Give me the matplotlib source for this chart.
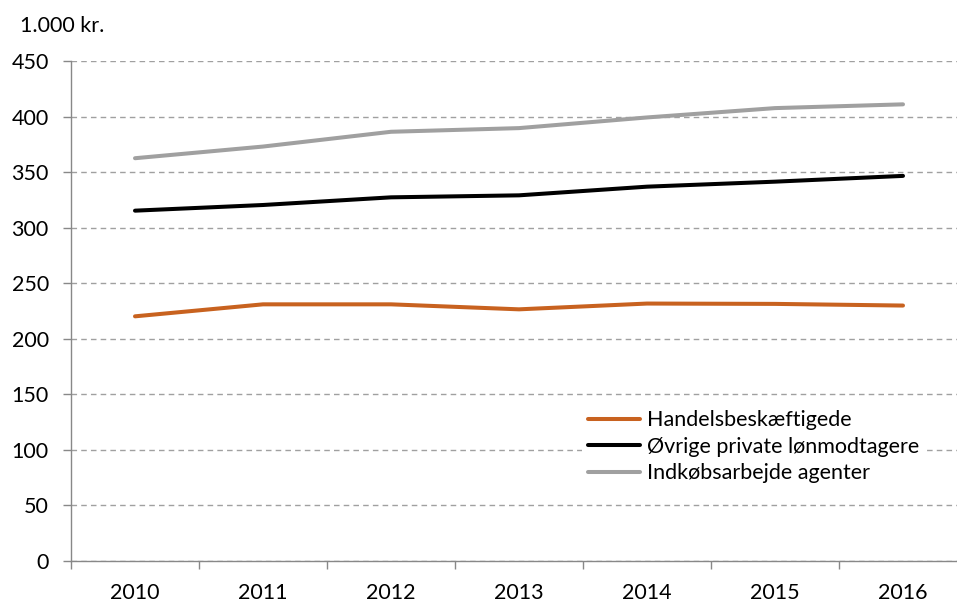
import matplotlib
matplotlib.use("Agg")
import matplotlib.pyplot as plt
from matplotlib.ticker import FixedLocator

years = ["2010", "2011", "2012", "2013", "2014", "2015", "2016"]
handel = [220.2, 231.0, 231.0, 226.5, 231.7, 231.4, 229.9]
oevrige = [315.3, 320.4, 327.3, 329.1, 336.9, 341.4, 346.6]
indkoeb = [362.5, 373.0, 386.3, 389.6, 399.2, 407.6, 411.0]
yticks = [0, 50, 100, 150, 200, 250, 300, 350, 400, 450]

plt.rcParams['font.family'] = ['Lato', 'DejaVu Sans']
fs = 15.5

fig = plt.figure(figsize=(9.57, 6.03), dpi=100)
ax = fig.add_axes([71/957, 42/603, 896/957, 500/603])

x = list(range(len(years)))
lw = 2.9
ax.plot(x, handel, color="#C8621F", lw=lw, label="Handelsbeskæftigede", solid_capstyle="round")
ax.plot(x, oevrige, color="#000000", lw=lw, label="Øvrige private lønmodtagere", solid_capstyle="round")
ax.plot(x, indkoeb, color="#A0A0A0", lw=lw, label="Indkøbsarbejde agenter", solid_capstyle="round")

ax.set_xlim(-0.5, 6.5)
ax.set_ylim(0, 450)
ax.set_yticks(yticks)
ax.set_yticklabels([str(v) for v in yticks])
ax.yaxis.grid(True, color="#A0A0A0", linestyle=(0, (4, 3)), linewidth=1.0)
ax.set_axisbelow(True)

ax.xaxis.set_major_locator(FixedLocator([i - 0.5 for i in range(len(years) + 1)]))
ax.xaxis.set_minor_locator(FixedLocator(x))
ax.set_xticklabels([], minor=False)
ax.set_xticklabels(years, minor=True)
ax.tick_params(axis="x", which="major", length=6, direction="out", color="#888888", width=1)
ax.tick_params(axis="x", which="minor", length=0, pad=16, labelsize=fs)
ax.tick_params(axis="y", length=6, direction="out", color="#888888", width=1, pad=10, labelsize=fs)

for s in ["top", "right"]:
    ax.spines[s].set_visible(False)
for s in ["left", "bottom"]:
    ax.spines[s].set_color("#888888")
    ax.spines[s].set_linewidth(1)

fig.text(20/957, 1 - 26/603, "1.000 kr.", fontsize=fs, va="center", ha="left")

leg = ax.legend(loc="upper left", bbox_to_anchor=(582/957, 1 - 404/603),
                bbox_transform=fig.transFigure, frameon=True, fontsize=fs,
                handlelength=2.4, handletextpad=0.3, labelspacing=0.3,
                borderaxespad=0, borderpad=0.3, fancybox=False)
leg.get_frame().set_facecolor("white")
leg.get_frame().set_edgecolor("none")
leg.get_frame().set_alpha(1.0)

fig.savefig("out.png", dpi=100)
